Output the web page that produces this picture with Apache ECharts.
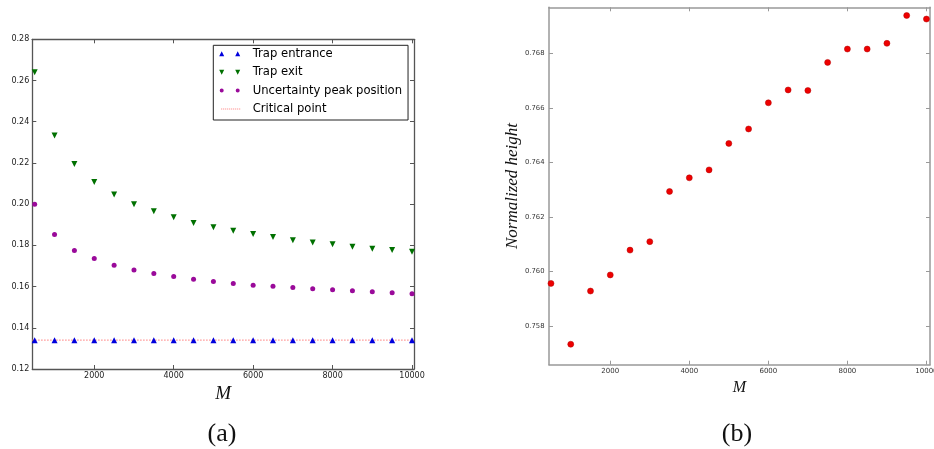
<!DOCTYPE html>
<html><head><meta charset="utf-8">
<script src="https://cdn.jsdelivr.net/npm/echarts@6/dist/echarts.min.js"></script>
<style>html,body{margin:0;padding:0;background:#fff}#c{width:934px;height:449px}</style>
</head><body><div id="c"></div>
<script>
// ---- data ----
const mValues = [500,1000,1500,2000,2500,3000,3500,4000,4500,5000,5500,6000,6500,7000,7500,8000,8500,9000,9500,10000];
const trapEntrance = [0.134,0.134,0.134,0.134,0.134,0.134,0.134,0.134,0.134,0.134,0.134,0.134,0.134,0.134,0.134,0.134,0.134,0.134,0.134,0.134];
const trapExit = [0.2640,0.2333,0.2195,0.2108,0.2047,0.2000,0.1966,0.1937,0.1909,0.1888,0.1871,0.1855,0.1840,0.1825,0.1814,0.1806,0.1793,0.1783,0.1777,0.1769];
const peakPosition = [0.2000,0.1853,0.1775,0.1736,0.1704,0.1680,0.1664,0.1649,0.1636,0.1625,0.1615,0.1607,0.1601,0.1596,0.1589,0.1585,0.1580,0.1575,0.1570,0.1565];
const criticalPoint = 0.134;
const normHeight = [0.75957,0.75734,0.75929,0.75988,0.76079,0.76110,0.76294,0.76344,0.76373,0.76470,0.76523,0.76619,0.76666,0.76664,0.76767,0.76816,0.76816,0.76837,0.76939,0.76926];
const xTicks = [2000,4000,6000,8000,10000];
const yTicksA = [0.12,0.14,0.16,0.18,0.20,0.22,0.24,0.26,0.28];
const yTicksB = [0.758,0.760,0.762,0.764,0.766,0.768];
const xRangeA = [440, 10050];
const xRangeB = [450, 10090];
const yRangeA = [0.12, 0.28];
const yRangeB = [0.75659, 0.76969];

const pairs = (ys) => mValues.map((m, i) => [m, ys[i]]);

function axis(opts) {
  const c = opts.color;
  return {
    type: 'value', gridIndex: opts.grid, position: opts.position,
    min: opts.range[0], max: opts.range[1],
    axisLine: { show: true, onZero: false, lineStyle: { color: c, width: opts.lw } },
    axisTick: { show: true, inside: true, length: 4, customValues: opts.ticks, lineStyle: { color: c, width: 1 } },
    axisLabel: opts.labels ? {
      show: true, customValues: opts.ticks, margin: opts.margin,
      fontFamily: 'DejaVu Sans', fontSize: opts.fs, color: opts.tc,
      formatter: opts.fmt
    } : { show: false },
    splitLine: { show: false },
    name: opts.name || '', nameLocation: 'middle', nameGap: opts.nameGap || 0,
    nameTextStyle: opts.nameStyle || {}
  };
}

const dotPath = (() => {
  let p = '';
  for (let x = 2; x <= 20; x += 2) p += 'M' + x + ',2L' + (x + 1) + ',2L' + (x + 1) + ',3L' + x + ',3Z';
  return 'path://' + p + 'M0,0L0.01,0L0,0.01Z M28.5,5L28.49,5L28.5,4.99Z';
})();

const option = {
  backgroundColor: '#fff',
  animation: false,
  grid: [
    { left: 32.3, top: 39.3, width: 381.7, height: 329.7, outerBoundsMode: 'none', containLabel: false },
    { left: 549, top: 7.3, width: 381, height: 357.4, outerBoundsMode: 'none', containLabel: false }
  ],
  xAxis: [
    axis({ grid: 0, position: 'bottom', range: xRangeA, ticks: xTicks, labels: true, color: '#555', lw: 1.3, margin: 3, fs: 8, tc: '#222',
      fmt: v => String(v), name: 'M', nameGap: 12,
      nameStyle: { fontFamily: 'Liberation Serif', fontStyle: 'italic', fontSize: 19, color: '#111' } }),
    axis({ grid: 0, position: 'top', range: xRangeA, ticks: xTicks, labels: false, color: '#555', lw: 1.3 }),
    axis({ grid: 1, position: 'bottom', range: xRangeB, ticks: xTicks, labels: true, color: '#999', lw: 1.5, margin: 3, fs: 7, tc: '#333',
      fmt: v => String(v), name: 'M', nameGap: 11,
      nameStyle: { fontFamily: 'Liberation Serif', fontStyle: 'italic', fontSize: 16, color: '#111' } }),
    axis({ grid: 1, position: 'top', range: xRangeB, ticks: xTicks, labels: false, color: '#999', lw: 1.5 })
  ],
  yAxis: [
    axis({ grid: 0, position: 'left', range: yRangeA, ticks: yTicksA, labels: true, color: '#555', lw: 1.3, margin: 3, fs: 8, tc: '#222',
      fmt: v => v.toFixed(2) }),
    axis({ grid: 0, position: 'right', range: yRangeA, ticks: yTicksA, labels: false, color: '#555', lw: 1.3 }),
    axis({ grid: 1, position: 'left', range: yRangeB, ticks: yTicksB, labels: true, color: '#999', lw: 1.5, margin: 4.5, fs: 6.8, tc: '#333',
      fmt: v => v.toFixed(3), name: 'Normalized height', nameGap: 28,
      nameStyle: { fontFamily: 'Liberation Serif', fontStyle: 'italic', fontSize: 17, color: '#111' } }),
    axis({ grid: 1, position: 'right', range: yRangeB, ticks: yTicksB, labels: false, color: '#999', lw: 1.5 })
  ],
  legend: {
    orient: 'vertical', left: 213.3, top: 45.3,
    padding: [2.5, 6, 5, 5.9],
    itemWidth: 28.5, itemHeight: 5, itemGap: 6.4,
    borderColor: '#222', borderWidth: 1, backgroundColor: '#fff',
    selectedMode: false,
    textStyle: { fontFamily: 'DejaVu Sans', fontSize: 11.6, color: '#000', lineHeight: 12 },
    data: [
      { name: 'Trap entrance', icon: 'path://M0,5L2.5,0L5,5Z M16,5L18.5,0L21,5Z M28.5,0L28.5,0.01L28.49,0Z' },
      { name: 'Trap exit', icon: 'path://M0,0L5,0L2.5,5Z M16,0L21,0L18.5,5Z M28.5,5L28.5,4.99L28.49,5Z' },
      { name: 'Uncertainty peak position', icon: 'path://M0.5,2.5a2,2 0 1 0 4,0a2,2 0 1 0 -4,0Z M16.5,2.5a2,2 0 1 0 4,0a2,2 0 1 0 -4,0Z M0,0L0.01,0L0,0.01Z M28.5,5L28.49,5L28.5,4.99Z' },
      { name: 'Critical point', icon: dotPath }
    ]
  },
  series: [
    { name: 'Critical point', type: 'line', xAxisIndex: 0, yAxisIndex: 0, symbol: 'none', z: 1,
      data: [[xRangeA[0], criticalPoint], [xRangeA[1], criticalPoint]],
      itemStyle: { color: '#ff7a7a' }, lineStyle: { color: '#ff7a7a', width: 1.2, type: [1.2, 1.8] } },
    { name: 'Trap entrance', type: 'scatter', xAxisIndex: 0, yAxisIndex: 0, symbol: 'triangle', symbolSize: [6, 6], z: 3,
      data: pairs(trapEntrance), itemStyle: { color: '#0000dd', opacity: 1 } },
    { name: 'Trap exit', type: 'scatter', xAxisIndex: 0, yAxisIndex: 0, symbol: 'triangle', symbolRotate: 180, symbolSize: [6, 6], z: 3,
      data: pairs(trapExit), itemStyle: { color: '#007000', opacity: 1 } },
    { name: 'Uncertainty peak position', type: 'scatter', xAxisIndex: 0, yAxisIndex: 0, symbol: 'circle', symbolSize: 5, z: 3,
      data: pairs(peakPosition), itemStyle: { color: '#9a0a9a', opacity: 1 } },
    { name: 'Normalized height', type: 'scatter', xAxisIndex: 2, yAxisIndex: 2, symbol: 'circle', symbolSize: 6, z: 3,
      data: pairs(normHeight), itemStyle: { color: '#ee0000', borderColor: '#b00000', borderWidth: 0.5, opacity: 1 } }
  ],
  graphic: [
    { type: 'text', x: 222, y: 434, style: { text: '(a)', textAlign: 'center', textVerticalAlign: 'middle', font: '26px "Liberation Serif"', fill: '#111' } },
    { type: 'text', x: 737, y: 434, style: { text: '(b)', textAlign: 'center', textVerticalAlign: 'middle', font: '26px "Liberation Serif"', fill: '#111' } }
  ]
};
const chart = echarts.init(document.getElementById('c'), null, { renderer: 'canvas' });
chart.setOption(option);
</script>
</body></html>
